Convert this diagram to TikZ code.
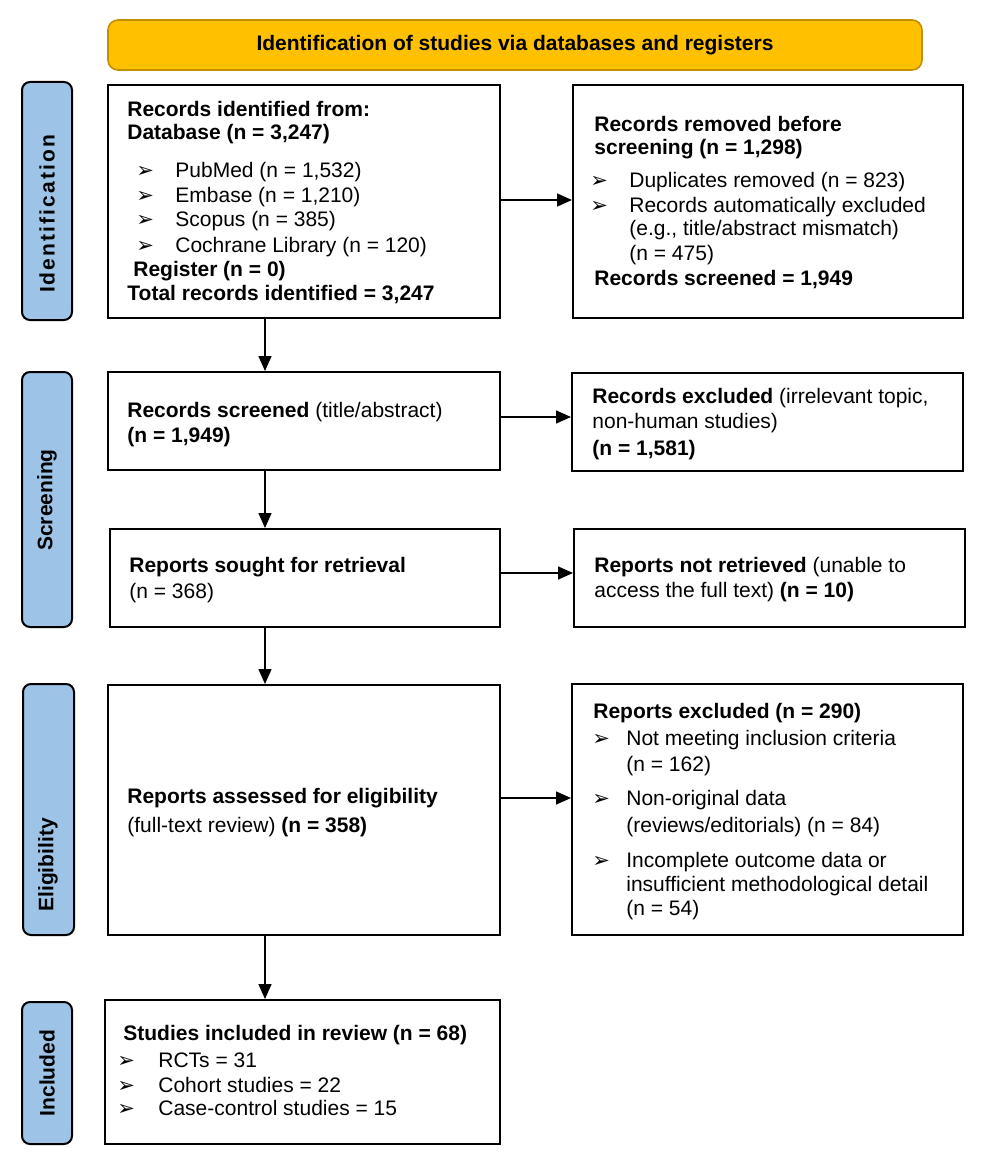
\documentclass[tikz,border=0pt]{standalone}
\usepackage{fontspec}
\setmainfont{Liberation Sans}
\newfontfamily\bulfont{DejaVu Sans}
\newfontfamily\spfont[LetterSpace=10]{Liberation Sans}
\usetikzlibrary{arrows.meta,fit}
\definecolor{gold}{HTML}{FFC000}
\definecolor{golddark}{HTML}{C09000}
\definecolor{labblue}{HTML}{9DC3E6}
\begin{document}
\begin{tikzpicture}[x=0.5pt,y=-0.5pt,
 box/.style={draw=black,line width=1pt,fill=white,inner sep=0pt},
 lab/.style={draw=black,line width=1pt,fill=labblue,rounded corners=4pt,inner sep=0pt},
 ban/.style={draw=golddark,line width=0.8pt,fill=gold,rounded corners=5pt,inner sep=0pt},
 txt/.style={anchor=base west,inner sep=0pt,font=\fontsize{10.5}{12.6}\selectfont},
 bt/.style={txt,font=\fontsize{10.5}{12.6}\selectfont\bfseries},
 bul/.style={anchor=base west,inner sep=0pt,font=\bulfont\fontsize{10.5}{12}\selectfont},
 labtxt/.style={rotate=90,inner sep=0pt,font=\fontsize{10.5}{12.6}\selectfont\bfseries},
 arr/.style={-{Triangle[length=7.5pt,width=6.5pt]},line width=0.75pt}]
\useasboundingbox (0,0) rectangle (986,1172);

% banner
\node[ban,fit={(108,20) (922,70)}] (ban) {};
\node[inner sep=0pt,font=\fontsize{10.5}{12.6}\selectfont\bfseries] (bantxt) at (515,45) {Identification of studies via databases and registers};

% phase labels
\node[lab,fit={(22,82) (72,320)}] (L1) {};
\node[labtxt,font=\spfont\fontsize{10.5}{12.6}\selectfont\bfseries] (L1t) at (47,214) {Identification};
\node[lab,fit={(22,372) (72,627)}] (L2) {};
\node[labtxt] (L2t) at (47,500) {Screening};
\node[lab,fit={(23,684) (74,935)}] (L3) {};
\node[labtxt] (L3t) at (48,865) {Eligibility};
\node[lab,fit={(22,1002) (72,1144)}] (L4) {};
\node[labtxt] (L4t) at (47,1073) {Included};

% boxes
\node[box,fit={(108,85) (500,318)}] (b1) {};
\node[box,fit={(573,85) (963,318)}] (b2) {};
\node[box,fit={(108,372) (500,470)}] (b3) {};
\node[box,fit={(572,373) (963,471)}] (b4) {};
\node[box,fit={(110,529) (500,627)}] (b5) {};
\node[box,fit={(574,529) (965,627)}] (b6) {};
\node[box,fit={(108,685) (500,935)}] (b7) {};
\node[box,fit={(572,684) (963,935)}] (b8) {};
\node[box,fit={(105,1000) (500,1144)}] (b9) {};

% box 1 text
\node[bt] (t1a) at (127,117) {Records identified from:};
\node[bt] (t1b) at (127,140) {Database (n = 3,247)};
\node[bul] (u1a) at (136,177) {➢};
\node[txt] (t1c) at (175,177) {PubMed (n = 1,532)};
\node[bul] (u1b) at (136,202) {➢};
\node[txt] (t1d) at (175,202) {Embase (n = 1,210)};
\node[bul] (u1c) at (136,226) {➢};
\node[txt] (t1e) at (175,226) {Scopus (n = 385)};
\node[bul] (u1d) at (136,252) {➢};
\node[txt] (t1f) at (175,252) {Cochrane Library (n = 120)};
\node[bt] (t1g) at (133,276) {Register (n = 0)};
\node[bt] (t1h) at (127,300) {Total records identified = 3,247};

% box 2 text
\node[bt] (t2a) at (594,132) {Records removed before};
\node[bt] (t2b) at (594,155) {screening (n = 1,298)};
\node[bul] (u2a) at (590,187) {➢};
\node[txt] (t2c) at (629,187) {Duplicates removed (n = 823)};
\node[bul] (u2b) at (590,212) {➢};
\node[txt] (t2d) at (629,212) {Records automatically excluded};
\node[txt] (t2e) at (629,235) {(e.g., title/abstract mismatch)};
\node[txt] (t2f) at (629,260) {(n = 475)};
\node[bt] (t2g) at (594,285) {Records screened = 1,949};

% box 3 text
\node[txt] (t3a) at (127,417) {\textbf{Records screened} (title/abstract)};
\node[bt] (t3b) at (127,442) {(n = 1,949)};

% box 4 text
\node[txt] (t4a) at (592,403) {\textbf{Records excluded} (irrelevant topic,};
\node[txt] (t4b) at (592,428) {non-human studies)};
\node[bt] (t4c) at (592,455) {(n = 1,581)};

% box 5 text
\node[bt] (t5a) at (129,572) {Reports sought for retrieval};
\node[txt] (t5b) at (129,598) {(n = 368)};

% box 6 text
\node[txt] (t6a) at (594,572) {\textbf{Reports not retrieved} (unable to};
\node[txt] (t6b) at (594,597) {access the full text) \textbf{(n = 10)}};

% box 7 text
\node[bt] (t7a) at (127,803) {Reports assessed for eligibility};
\node[txt] (t7b) at (127,832) {(full-text review) \textbf{(n = 358)}};

% box 8 text
\node[bt] (t8a) at (593,718) {Reports excluded (n = 290)};
\node[bul] (u8a) at (592,745) {➢};
\node[txt] (t8b) at (626,745) {Not meeting inclusion criteria};
\node[txt] (t8c) at (626,771) {(n = 162)};
\node[bul] (u8b) at (592,805) {➢};
\node[txt] (t8d) at (626,805) {Non-original data};
\node[txt] (t8e) at (626,832) {(reviews/editorials) (n = 84)};
\node[bul] (u8c) at (592,867) {➢};
\node[txt] (t8f) at (626,867) {Incomplete outcome data or};
\node[txt] (t8g) at (626,891) {insufficient methodological detail};
\node[txt] (t8h) at (626,915) {(n = 54)};

% box 9 text
\node[bt] (t9a) at (123,1040) {Studies included in review (n = 68)};
\node[bul] (u9a) at (117,1067) {➢};
\node[txt] (t9b) at (158,1067) {RCTs = 31};
\node[bul] (u9b) at (117,1092) {➢};
\node[txt] (t9c) at (158,1092) {Cohort studies = 22};
\node[bul] (u9c) at (117,1115) {➢};
\node[txt] (t9d) at (158,1115) {Case-control studies = 15};

% connectors
\coordinate (ax) at (265,0);
\coordinate (h1) at (0,200);
\coordinate (h2) at (0,417);
\coordinate (h3) at (0,573);
\coordinate (h4) at (0,798);
\draw[arr] (b1.south -| ax) -- (b3.north -| ax);
\draw[arr] (b3.south -| ax) -- (b5.north -| ax);
\draw[arr] (b5.south -| ax) -- (b7.north -| ax);
\draw[arr] (b7.south -| ax) -- (b9.north -| ax);
\draw[arr] (b1.east |- h1) -- (b2.west |- h1);
\draw[arr] (b3.east |- h2) -- (b4.west |- h2);
\draw[arr] (b5.east |- h3) -- (b6.west |- h3);
\draw[arr] (b7.east |- h4) -- (b8.west |- h4);
\end{tikzpicture}
\end{document}
